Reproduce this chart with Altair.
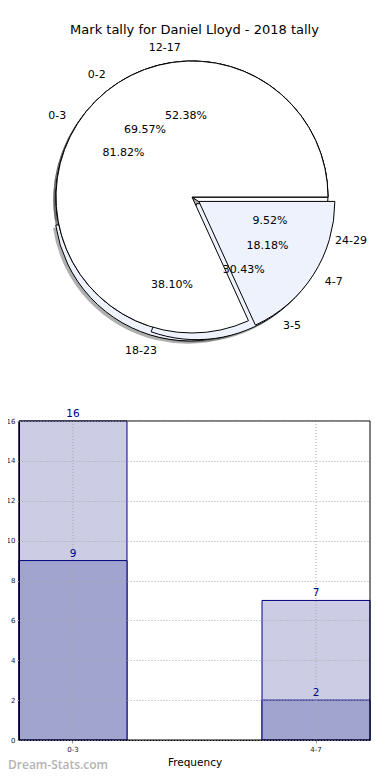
import math
import altair as alt
import pandas as pd

TITLE = "Mark tally for Daniel Lloyd - 2018 tally"

# ---- pie data (drawn bottom -> top) ----
PIE_ORDER = ["C", "B", "A"]
PIE_C_LABELS = ["12-17", "18-23", "24-29"]
PIE_C_VALUES = [11, 8, 2]
PIE_B_LABELS = ["0-2", "3-5"]
PIE_B_VALUES = [16, 7]
PIE_A_LABELS = ["0-3", "4-7"]
PIE_A_VALUES = [9, 2]

# ---- bar data ----
BAR_CATEGORIES = ["0-3", "4-7"]
BAR_TOTAL = [16, 7]
BAR_PART = [9, 2]
Y_TICKS = [0, 2, 4, 6, 8, 10, 12, 14, 16]

# ---- layout / style ----
W, H = 351, 732          # group size (bar plot area spans x 0..W, y BAR_TOP..H)
BAR_TOP = 413
CX, CY, R = 173, 189, 136
EXPLODE = 0.06
LIGHT_WEDGE = "#edf2fd"
LIGHT_BAR = "#ccccE4"
DARK_BAR = "#a2a4d0"
NAVY = "#000080"
GRID = "#a8a8a8"
FONT = "DejaVu Sans"

rows = []
for pie, labels, values in [("C", PIE_C_LABELS, PIE_C_VALUES),
                            ("B", PIE_B_LABELS, PIE_B_VALUES),
                            ("A", PIE_A_LABELS, PIE_A_VALUES)]:
    for i, (lab, val) in enumerate(zip(labels, values)):
        rows.append({"pie": pie, "i": i, "label": lab, "value": val})
pie_df = pd.DataFrame(rows)

pie_base = (
    alt.Chart(pie_df)
    .transform_joinaggregate(total="sum(value)", groupby=["pie"])
    .transform_window(cum="sum(value)", groupby=["pie"], sort=[alt.SortField("i")], frame=[None, 0])
    .transform_calculate(
        f0="(datum.cum - datum.value) / datum.total",
        f1="datum.cum / datum.total",
        fm="(datum.cum - datum.value / 2) / datum.total",
        ex=f"datum.i == 1 ? {EXPLODE} : 0",
        ang="2 * PI * datum.fm",
        cx=f"{CX} + datum.ex * {R} * cos(datum.ang)",
        cy=f"{CY} - datum.ex * {R} * sin(datum.ang)",
        sx=f"datum.cx - 0.02 * {R}",
        sy=f"datum.cy + 0.02 * {R}",
        lx=f"datum.cx + 1.1 * {R} * cos(datum.ang)",
        ly=f"datum.cy - 1.1 * {R} * sin(datum.ang)",
        px=f"datum.cx + 0.6 * {R} * cos(datum.ang)",
        py=f"datum.cy - 0.6 * {R} * sin(datum.ang)",
        pct="format(100 * datum.value / datum.total, '.2f') + '%'",
        right="cos(datum.ang) > 0",
    )
)

theta = alt.Theta("f0:Q", scale=alt.Scale(domain=[0, 1], range=[2.5 * math.pi, 0.5 * math.pi]), stack=None)

shadow = pie_base.mark_arc(radius=R, fill="#4d4d4d", opacity=0.45, strokeWidth=0).encode(
    theta=theta, theta2="f1:Q",
    x=alt.X("sx:Q", scale=None), y=alt.Y("sy:Q", scale=None),
)

wedge_layers = []
for p in PIE_ORDER:
    wedge_layers.append(
        pie_base.transform_filter(f"datum.pie == '{p}'")
        .mark_arc(radius=R, stroke="black", strokeWidth=1)
        .encode(
            theta=theta, theta2="f1:Q",
            x=alt.X("cx:Q", scale=None), y=alt.Y("cy:Q", scale=None),
            fill=alt.condition("datum.i == 1", alt.value(LIGHT_WEDGE), alt.value("white")),
        )
    )

lab_right = pie_base.transform_filter("datum.right").mark_text(
    align="left", baseline="middle", font=FONT, fontSize=11, color="black"
).encode(x=alt.X("lx:Q", scale=None), y=alt.Y("ly:Q", scale=None), text="label:N")
lab_left = pie_base.transform_filter("!datum.right").mark_text(
    align="right", baseline="middle", font=FONT, fontSize=11, color="black"
).encode(x=alt.X("lx:Q", scale=None), y=alt.Y("ly:Q", scale=None), text="label:N")
pct_text = pie_base.mark_text(
    align="center", baseline="middle", font=FONT, fontSize=11, color="black"
).encode(x=alt.X("px:Q", scale=None), y=alt.Y("py:Q", scale=None), text="pct:N")

# ---- bars ----
bars_df = pd.DataFrame({"cat": BAR_CATEGORIES, "total": BAR_TOTAL, "part": BAR_PART})
xenc = alt.X(
    "cat:N",
    sort=BAR_CATEGORIES,
    scale=alt.Scale(paddingInner=0.5556, paddingOuter=0),
    axis=alt.Axis(
        title="Frequency", labelAngle=0, labelFontSize=7, labelFont=FONT, labelColor="#222",
        labelPadding=2, ticks=True, tickSize=3, tickColor="#999", grid=False,
        bandPosition=0.5, titleFont=FONT, titleFontSize=10.5,
        titleFontWeight="normal", titlePadding=5, domainColor="black",
    ),
)
yscale = alt.Scale(domain=[0, 16], range=[H, BAR_TOP], nice=False)
yaxis = alt.Axis(
    values=Y_TICKS, title=None, labelFontSize=7, labelFont=FONT, labelColor="#222",
    labelPadding=2, ticks=True, tickSize=2, tickColor="#999", grid=True, gridColor=GRID,
    gridDash=[1, 2], domainColor="black", zindex=1,
)

bars_total = alt.Chart(bars_df).mark_bar(fill=LIGHT_BAR, stroke=NAVY, strokeWidth=1).encode(
    x=xenc, y=alt.Y("total:Q", scale=yscale, axis=yaxis)
)
bars_part = alt.Chart(bars_df).mark_bar(fill=DARK_BAR, stroke=NAVY, strokeWidth=1).encode(
    x=xenc, y=alt.Y("part:Q", scale=yscale, axis=yaxis)
)
xgrid = alt.Chart(bars_df).mark_rule(color=GRID, strokeDash=[1, 2], strokeWidth=1).encode(
    x=xenc, y=alt.value(BAR_TOP), y2=alt.value(H)
)
txt_total = alt.Chart(bars_df).mark_text(baseline="bottom", dy=-2, font=FONT, fontSize=10.5, color=NAVY).encode(
    x=xenc, y=alt.Y("total:Q", scale=yscale, axis=yaxis), text="total:Q"
)
txt_part = alt.Chart(bars_df).mark_text(baseline="bottom", dy=-2, font=FONT, fontSize=10.5, color=NAVY).encode(
    x=xenc, y=alt.Y("part:Q", scale=yscale, axis=yaxis), text="part:Q"
)

frame = alt.Chart(pd.DataFrame({"a": [0]})).mark_rect(fillOpacity=0, stroke="black", strokeWidth=1).encode(
    x=alt.value(0), x2=alt.value(W), y=alt.value(BAR_TOP), y2=alt.value(H)
)

watermark = alt.Chart(pd.DataFrame({"t": ["Dream-Stats.com"]})).mark_text(
    align="left", baseline="bottom", font="Open Sans", fontSize=12, fontWeight=600, color="#b3b3b3"
).encode(x=alt.value(-11), y=alt.value(H + 32), text="t:N")

chart = alt.layer(
    shadow, *wedge_layers, lab_right, lab_left, pct_text,
    bars_total, bars_part, xgrid, txt_total, txt_part, frame, watermark,
).properties(
    width=W, height=H,
    autosize=alt.AutoSizeParams(type="none"),
    padding={"left": 11, "right": 12, "top": 0, "bottom": 32},
    title=alt.TitleParams(TITLE, anchor="middle", frame="group", offset=-35, baseline="middle",
                          font=FONT, fontSize=13, fontWeight="normal", color="black"),
).configure_view(stroke=None)

chart.save("out.html", embed_options={"renderer": "svg", "actions": False})
